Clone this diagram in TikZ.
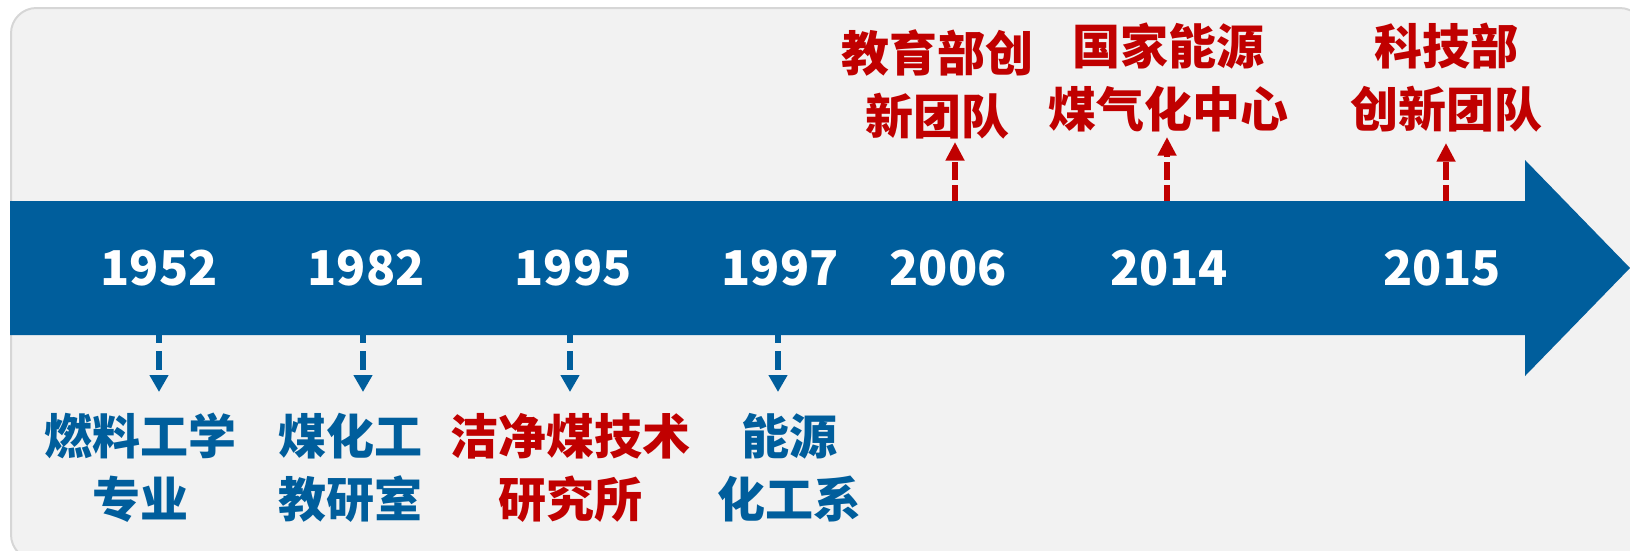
\documentclass[tikz,border=0pt]{standalone}
\usepackage{fontspec}
\newfontfamily\cjk{Noto Sans CJK SC}
\usetikzlibrary{arrows.meta}
\definecolor{tlblue}{RGB}{0,94,156}
\definecolor{tlred}{RGB}{192,0,0}
\definecolor{bgfill}{RGB}{242,242,242}
\definecolor{bgline}{RGB}{214,214,214}
\begin{document}
\begin{tikzpicture}[x=0.75pt,y=-0.75pt,
  year/.style={text=white,font=\cjk\bfseries\fontsize{36}{40}\selectfont,inner sep=0pt},
  lab/.style={font=\cjk\bfseries\fontsize{36}{47.25}\selectfont,align=center,inner sep=0pt},
  bluelab/.style={lab,text=tlblue},
  redlab/.style={lab,text=tlred},
  downarr/.style={draw=tlblue,line width=4.5pt,dash pattern=on 14.25pt off 6pt,dash phase=8.25pt,
    -{Triangle[width=13.5pt,length=12.75pt]}},
  uparr/.style={draw=tlred,line width=4.5pt,dash pattern=on 13.5pt off 3.75pt,dash phase=1.5pt,
    -{Triangle[width=13.5pt,length=14pt]}}]
\useasboundingbox (0,0) rectangle (1630,550);
\clip (0,0) rectangle (1630,550);
% background panel
\draw[fill=bgfill,draw=bgline,line width=1.5pt,rounded corners=19pt] (11,8) rectangle (1645,560);
% timeline band
\fill[tlblue] (10,201) -- (1525,201) -- (1525,160) -- (1630,268) -- (1525,376) -- (1525,335) -- (10,335) -- cycle;
% years
\node[year] (y1) at (159,268) {1952};
\node[year] (y2) at (366,268) {1982};
\node[year] (y3) at (573,268) {1995};
\node[year] (y4) at (780,268) {1997};
\node[year] (y5) at (948,268) {2006};
\node[year] (y6) at (1169,268) {2014};
\node[year] (y7) at (1442,268) {2015};
% arrow ends
\coordinate (d1) at (159,335); \coordinate (t1) at (159,392);
\coordinate (d2) at (363,335); \coordinate (t2) at (363,392);
\coordinate (d3) at (570,335); \coordinate (t3) at (570,392);
\coordinate (d4) at (778,335); \coordinate (t4) at (778,392);
\coordinate (d5) at (955,201); \coordinate (t5) at (955,142);
\coordinate (d6) at (1167,201); \coordinate (t6) at (1167,137);
\coordinate (d7) at (1446,201); \coordinate (t7) at (1446,143);
\draw[downarr] (d1) -- (t1);
\draw[downarr] (d2) -- (t2);
\draw[downarr] (d3) -- (t3);
\draw[downarr] (d4) -- (t4);
\draw[uparr] (d5) -- (t5);
\draw[uparr] (d6) -- (t6);
\draw[uparr] (d7) -- (t7);
% labels
\node[bluelab] (l1) at (140,468) {燃料工学\\专业};
\node[bluelab] (l2) at (350,468) {煤化工\\教研室};
\node[redlab] (l3) at (570,468) {洁净煤技术\\研究所};
\node[bluelab] (l4) at (789,468) {能源\\化工系};
\node[redlab] (l5) at (937,84) {教育部创\\新团队};
\node[redlab] (l6) at (1168,77) {国家能源\\煤气化中心};
\node[redlab] (l7) at (1446,78) {科技部\\创新团队};
\end{tikzpicture}
\end{document}
